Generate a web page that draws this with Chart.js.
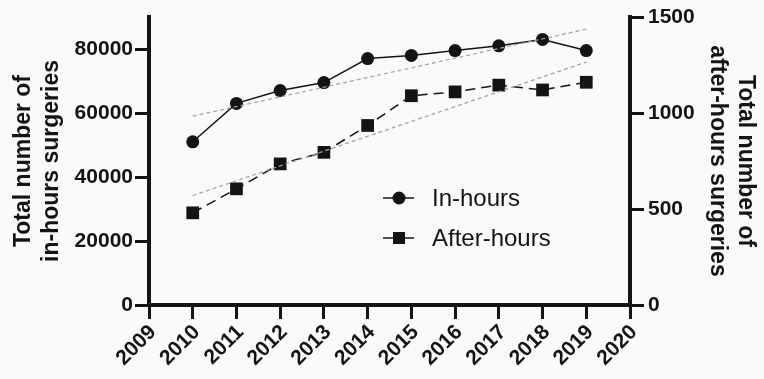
<!DOCTYPE html>
<html>
<head>
<meta charset="utf-8">
<script src="https://cdn.jsdelivr.net/npm/chart.js@4"></script>
<style>
  html, body { margin: 0; padding: 0; background: #fbf9fa; }
  #wrap { width: 764px; height: 379px; }
</style>
</head>
<body>
<div id="wrap"><canvas id="surgeryChart" width="764" height="379"></canvas></div>
<script>
// years on the x axis
const years = [2010, 2011, 2012, 2013, 2014, 2015, 2016, 2017, 2018, 2019];
// in-hours surgeries (left axis)
const inHours = [51000, 63000, 67000, 69500, 77000, 78000, 79500, 81000, 83000, 79500];
// after-hours surgeries (right axis)
const afterHours = [480, 605, 735, 795, 935, 1090, 1110, 1145, 1120, 1160];
// grey trend lines, end points
const trendYears = [2010, 2019];
const inHoursTrend = [59000, 86200];
const afterHoursTrend = [570, 1265];
// axis ticks
const leftTicks = [0, 20000, 40000, 60000, 80000];
const rightTicks = [0, 500, 1000, 1500];

const ink = '#141414';
const titleFont = { family: 'Liberation Sans, Arial, sans-serif', size: 23, weight: 'bold', lineHeight: 1.2 };
const tickFont = { family: 'Liberation Sans, Arial, sans-serif', size: 21, weight: 'bold' };

const toXY = (xs, ys) => xs.map((x, i) => ({ x: x, y: ys[i] }));

// legend drawn inside the plot area
const innerLegend = {
    id: 'innerLegend',
    afterDraw(chart) {
        const ctx = chart.ctx;
        const items = [
            { label: 'In-hours', style: 'circle', y: 198 },
            { label: 'After-hours', style: 'rect', y: 238 }
        ];
        ctx.save();
        items.forEach(it => {
            ctx.strokeStyle = ink;
            ctx.fillStyle = ink;
            ctx.lineWidth = 1.5;
            ctx.beginPath();
            ctx.moveTo(383, it.y);
            ctx.lineTo(414, it.y);
            ctx.stroke();
            ctx.beginPath();
            if (it.style === 'circle') {
                ctx.arc(399, it.y, 6.5, 0, Math.PI * 2);
            } else {
                ctx.rect(393, it.y - 6, 12, 12);
            }
            ctx.fill();
            ctx.font = '24px Liberation Sans, Arial, sans-serif';
            ctx.textBaseline = 'middle';
            ctx.fillText(it.label, 432, it.y + 1);
        });
        ctx.restore();
    }
};

const bg = {
    id: 'bg',
    beforeDraw(chart) {
        const ctx = chart.ctx;
        ctx.save();
        ctx.fillStyle = '#fbf9fa';
        ctx.fillRect(0, 0, chart.width, chart.height);
        ctx.restore();
    }
};

const axisGrid = { drawOnChartArea: false, drawTicks: true, tickLength: 14, lineWidth: 3, color: ink };
const axisBorder = { display: true, width: 4, color: ink };

const ctx = document.getElementById('surgeryChart').getContext('2d');
new Chart(ctx, {
    type: 'line',
    data: {
        datasets: [
            {
                label: 'In-hours trend',
                data: toXY(trendYears, inHoursTrend),
                yAxisID: 'y',
                borderColor: '#a3a3a3',
                borderWidth: 1.2,
                borderDash: [4, 3],
                pointRadius: 0
            },
            {
                label: 'After-hours trend',
                data: toXY(trendYears, afterHoursTrend),
                yAxisID: 'y1',
                borderColor: '#a3a3a3',
                borderWidth: 1.2,
                borderDash: [4, 3],
                pointRadius: 0
            },
            {
                label: 'In-hours',
                data: toXY(years, inHours),
                yAxisID: 'y',
                borderColor: ink,
                backgroundColor: ink,
                borderWidth: 1.5,
                pointStyle: 'circle',
                pointRadius: 6.5,
                pointBorderWidth: 0
            },
            {
                label: 'After-hours',
                data: toXY(years, afterHours),
                yAxisID: 'y1',
                borderColor: ink,
                backgroundColor: ink,
                borderWidth: 1.5,
                borderDash: [10, 6],
                pointStyle: 'rect',
                pointRadius: 9,
                pointBorderWidth: 0
            }
        ]
    },
    options: {
        responsive: false,
        animation: false,
        layout: { padding: { top: 17, bottom: 0, left: 10, right: 5 } },
        plugins: {
            legend: { display: false },
            tooltip: { enabled: false }
        },
        scales: {
            x: {
                type: 'linear',
                min: 2009,
                max: 2020,
                afterFit(scale) { scale.height = 74; },
                ticks: {
                    stepSize: 1,
                    color: ink,
                    font: tickFont,
                    minRotation: 45,
                    maxRotation: 45,
                    padding: 1,
                    labelOffset: 4,
                    callback: v => String(v)
                },
                grid: axisGrid,
                border: axisBorder
            },
            y: {
                position: 'left',
                min: 0,
                max: 90000,
                afterFit(scale) { scale.width = 139; },
                afterBuildTicks(scale) {
                    scale.ticks = leftTicks.map(v => ({ value: v }));
                },
                ticks: { color: ink, font: tickFont, padding: 2, callback: v => String(v) },
                grid: axisGrid,
                border: axisBorder,
                title: {
                    display: true,
                    text: ['Total number of', 'in-hours surgeries'],
                    color: ink,
                    font: titleFont,
                    padding: { top: 0, bottom: 2 }
                }
            },
            y1: {
                position: 'right',
                min: 0,
                max: 1500,
                afterFit(scale) { scale.width = 129; },
                afterBuildTicks(scale) {
                    scale.ticks = rightTicks.map(v => ({ value: v }));
                },
                ticks: { color: ink, font: tickFont, padding: 4, callback: v => String(v) },
                grid: axisGrid,
                border: axisBorder,
                title: {
                    display: true,
                    text: ['Total number of', 'after-hours surgeries'],
                    color: ink,
                    font: titleFont,
                    padding: { top: 0, bottom: 2 }
                }
            }
        }
    },
    plugins: [bg, innerLegend]
});
</script>
</body>
</html>
